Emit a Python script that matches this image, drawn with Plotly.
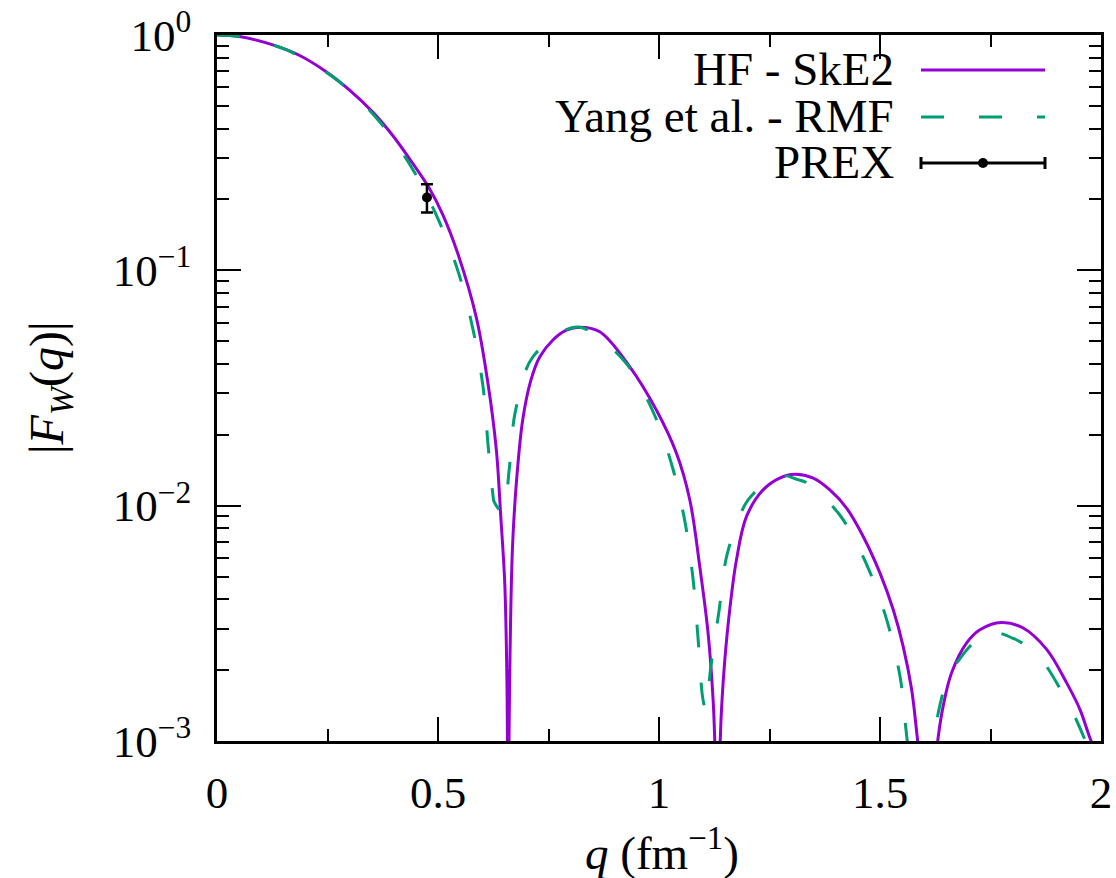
import plotly.graph_objects as go

# ---------------- data ----------------
q_ske2 = [0.000, 0.051, 0.130, 0.187, 0.247, 0.300, 0.353, 0.398, 0.436, 0.481,
          0.511, 0.545, 0.587, 0.613, 0.632, 0.642, 0.651, 0.656, 0.6585, 0.662,
          0.6683, 0.6773, 0.6916, 0.7097, 0.7301, 0.760, 0.7905, 0.8206, 0.866, 0.934,
          0.994, 1.0395, 1.0696, 1.0922, 1.111, 1.1224, 1.1262, 1.1315, 1.1385,
          1.1414, 1.149, 1.160, 1.1753, 1.198, 1.236, 1.273, 1.307, 1.349, 1.3865,
          1.4243, 1.462, 1.500, 1.530, 1.5525, 1.5715, 1.584, 1.608, 1.632, 1.643,
          1.662, 1.696, 1.726, 1.775, 1.824, 1.877, 1.922, 1.9525, 1.975, 2.000]
fw_ske2 = [1.0, 0.985, 0.903, 0.818, 0.698, 0.583, 0.469, 0.373, 0.297, 0.222,
           0.172, 0.1175, 0.0627, 0.0331, 0.01726, 0.0090, 0.00471, 0.00177, 4e-4, 0.00177,
           0.0065, 0.0125, 0.02313, 0.0339, 0.0428, 0.0506, 0.0557, 0.0573, 0.0548, 0.0389,
           0.0255, 0.0167, 0.0106, 0.00552, 0.00288, 0.0015, 0.0010, 4e-4, 0.0010,
           0.00136, 0.00222, 0.00361, 0.00589, 0.0090, 0.0117, 0.0131, 0.0136, 0.0131, 0.01167,
           0.00977, 0.0074, 0.00517, 0.00361, 0.00252, 0.00166, 0.00105, 4e-4, 0.00105, 0.00141,
           0.00195, 0.00261, 0.00297, 0.00319, 0.00302, 0.00245, 0.00177, 0.00136, 0.00103, 0.0008]

q_rmf = [0.000, 0.051, 0.1546, 0.2678, 0.3622, 0.4396, 0.4998, 0.5467, 0.5795, 0.602,
         0.6135, 0.6248, 0.6268, 0.6474, 0.661, 0.6746, 0.7142, 0.815, 0.9213, 0.9881,
         1.0311, 1.0594, 1.0775, 1.0884, 1.0986, 1.1058, 1.1167, 1.1357, 1.1545, 1.202,
         1.2733, 1.3118, 1.3345, 1.4103, 1.4726, 1.5167, 1.5462, 1.5597, 1.591, 1.6242,
         1.6604, 1.743, 1.803, 1.8585, 1.9276, 1.960, 2.000]
fw_rmf = [1.0, 0.984, 0.868, 0.652, 0.441, 0.275, 0.166, 0.0973, 0.0557, 0.0319,
          0.0179, 0.0109, 0.0104, 0.0093, 0.0142, 0.0249, 0.0428, 0.0575, 0.0412, 0.0247,
          0.01442, 0.00841, 0.0048, 0.00272, 0.00154, 0.00135, 0.00203, 0.00356, 0.00625, 0.0106,
          0.01345, 0.01294, 0.0125, 0.00906, 0.00547, 0.0032, 0.00184, 0.00108, 4e-4, 0.00112,
          0.00196, 0.00289, 0.00272, 0.0023, 0.00142, 0.00105, 0.00066]

prex_q = [0.475]
prex_fw = [0.204]
prex_err = [0.028]

x_tick_vals = [0, 0.5, 1, 1.5, 2]
x_tick_text = ["0", "0.5", "1", "1.5", "2"]
y_tick_vals = [1e-3, 1e-2, 1e-1, 1]
y_tick_text = ["10<sup>\u22123</sup>", "10<sup>\u22122</sup>", "10<sup>\u22121</sup>", "10<sup>0</sup>"]
y_minor_vals = [k * 10.0 ** e for e in (-3, -2, -1) for k in range(2, 10)]

legend_labels = ["HF - SkE2", "Yang et al. - RMF", "PREX"]
x_title = "<i>q</i> (fm<sup>\u22121</sup>)"
y_title = "|<i>F</i><sub><i>W</i></sub>(<i>q</i>)|"

# ---------------- style ----------------
PURPLE = "#9400D3"
GREEN = "#009E73"
FONT = "Liberation Serif"
FS_TICK = 45
FS_TEXT = 47
DASH = "23px,35px"

fig = go.Figure()
fig.add_trace(go.Scatter(x=q_ske2, y=fw_ske2, mode="lines", name=legend_labels[0],
                         line=dict(color=PURPLE, width=3, shape="spline", smoothing=1.0),
                         showlegend=False))
fig.add_trace(go.Scatter(x=q_rmf, y=fw_rmf, mode="lines", name=legend_labels[1],
                         line=dict(color=GREEN, width=3, dash=DASH, shape="spline", smoothing=0.9),
                         showlegend=False))
fig.add_trace(go.Scatter(x=prex_q, y=prex_fw, mode="markers", name=legend_labels[2],
                         marker=dict(color="black", size=10),
                         error_y=dict(type="data", array=prex_err, visible=True,
                                      color="black", thickness=2.5, width=6),
                         showlegend=False))

axis_common = dict(showline=True, linecolor="black", linewidth=2.5, mirror="allticks",
                   ticks="inside", tickcolor="black", tickwidth=2, showgrid=False,
                   zeroline=False, automargin=False,
                   tickfont=dict(family=FONT, size=FS_TICK, color="black"))

fig.update_xaxes(range=[0, 2], tickmode="array", tickvals=x_tick_vals, ticktext=x_tick_text,
                 ticklen=24, ticklabelstandoff=10,
                 minor=dict(ticks="inside", dtick=0.25, tick0=0, ticklen=12,
                            tickwidth=2, tickcolor="black"),
                 **axis_common)
fig.update_yaxes(type="log", range=[-3, 0], tickmode="array", tickvals=y_tick_vals,
                 ticktext=y_tick_text, ticklen=24, ticklabelstandoff=14,
                 minor=dict(ticks="inside", tickvals=y_minor_vals, ticklen=12,
                            tickwidth=2, tickcolor="black"),
                 **axis_common)

# ---------------- legend (text on the left, sample on the right) ----------------
plot_l, plot_r, plot_t, plot_b = 217, 1101, 35, 741
W, H = plot_r - plot_l, plot_b - plot_t


def px(xp):
    return (xp - plot_l) / W


def py(yp):
    return (plot_b - yp) / H


rows = [70, 117, 163]
text_right = px(896)
line_x0, line_x1 = px(921), px(1045)
for lab, yr in zip(legend_labels, rows):
    fig.add_annotation(x=text_right, y=py(yr - 1), xref="paper", yref="paper", text=lab,
                       showarrow=False, xanchor="right", yanchor="middle",
                       font=dict(family=FONT, size=FS_TEXT, color="black"))

fig.add_shape(type="line", xref="paper", yref="paper", x0=line_x0, x1=line_x1,
              y0=py(rows[0]), y1=py(rows[0]), line=dict(color=PURPLE, width=3))
fig.add_shape(type="line", xref="paper", yref="paper", x0=line_x0, x1=line_x1,
              y0=py(rows[1]), y1=py(rows[1]), line=dict(color=GREEN, width=3, dash=DASH))
fig.add_shape(type="line", xref="paper", yref="paper", x0=line_x0, x1=line_x1,
              y0=py(rows[2]), y1=py(rows[2]), line=dict(color="black", width=3))
for xc in (line_x0, line_x1):
    fig.add_shape(type="line", xref="paper", yref="paper", x0=xc, x1=xc,
                  y0=py(rows[2] - 6), y1=py(rows[2] + 6), line=dict(color="black", width=3))
fig.add_shape(type="circle", xref="paper", yref="paper", xsizemode="pixel", ysizemode="pixel",
              xanchor=px(983), yanchor=py(rows[2]), x0=-5, x1=5, y0=-5, y1=5,
              fillcolor="black", line=dict(color="black", width=0))

# ---------------- axis titles ----------------
fig.add_annotation(x=px(662), y=py(849), xref="paper", yref="paper", text=x_title,
                   showarrow=False, xanchor="center", yanchor="middle",
                   font=dict(family=FONT, size=FS_TEXT, color="black"))
fig.add_annotation(x=px(50), y=py(388), xref="paper", yref="paper", text=y_title,
                   showarrow=False, xanchor="center", yanchor="middle", textangle=-90,
                   font=dict(family=FONT, size=48, color="black"))

fig.update_layout(width=1116, height=878, plot_bgcolor="white", paper_bgcolor="white",
                  margin=dict(l=plot_l, r=1116 - plot_r, t=plot_t, b=878 - plot_b, pad=0),
                  showlegend=False)

fig.write_html("out.html", config={"displayModeBar": False},
               post_script="document.body.style.margin='0';document.body.style.overflow='hidden';")
